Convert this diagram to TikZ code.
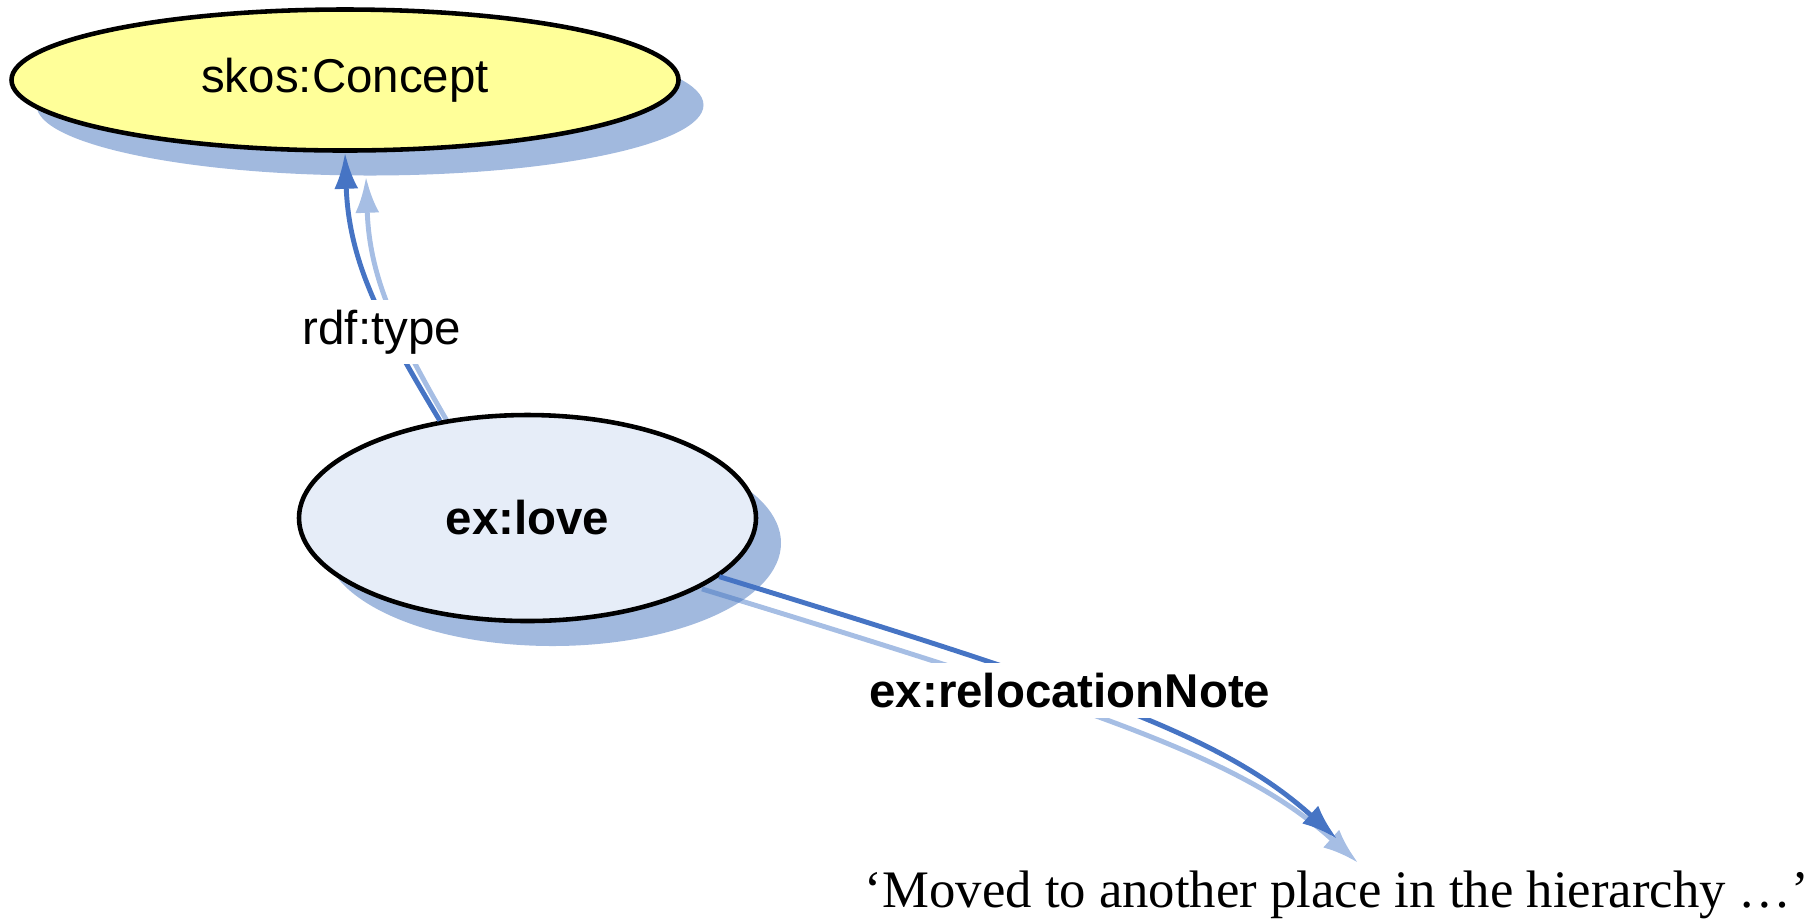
\documentclass[tikz,border=0pt]{standalone}
\usepackage{fontspec}
\setmainfont{Liberation Sans}
\newfontfamily\litserif{Liberation Serif}
\usetikzlibrary{positioning, shapes.geometric, shadows, arrows.meta}
\definecolor{conceptyellow}{RGB}{255,255,153}
\definecolor{resourceblue}{RGB}{230,237,248}
\definecolor{shadowblue}{RGB}{67,115,189}
\definecolor{arcblue}{RGB}{70,116,196}
\definecolor{arcpale}{RGB}{166,190,228}
\pgfdeclarelayer{back}
\pgfsetlayers{back,main}

\begin{document}
\begin{tikzpicture}[
               font = \fontsize{13.5}{16}\selectfont,
                  > = {Latex[length=3.6mm, width=2.4mm]},
      concept/.style = {ellipse, draw, line width=1.3pt, fill=conceptyellow,
                        minimum width=66.7mm, minimum height=14.1mm,
                        drop shadow={shadow xshift=2.5mm, shadow yshift=-2.5mm,
                                     fill=shadowblue, opacity=0.5}},
     resource/.style = {concept, fill=resourceblue, font=\fontsize{13.5}{16}\selectfont\bfseries,
                        minimum width=45.7mm, minimum height=20.6mm},
      literal/.style = {anchor=base, inner xsep=1pt, inner ysep=3.1mm,
                        font=\litserif\fontsize{15}{18}\selectfont},
          arc/.style = {->, line width=1.4pt, draw=arcblue},
    arcshadow/.style = {->, line width=1.4pt, draw=arcpale, shorten <=-4mm,
                        transform canvas={shift={(2.1mm,-2.4mm)}}},
         prop/.style = {fill=white, inner sep=1mm}
                        ]
\useasboundingbox (0,0) rectangle (18.19,-9.20);
\node (skos)[concept] at (3.45,-0.80) {skos:Concept};
\node (love)[resource] at (5.275,-5.18) {ex:love};
\node (note)[literal] at (13.37,-9.07) {‘Moved to another place in the hierarchy …’};
% shadows of the arcs
\begin{pgfonlayer}{back}
\draw[arcshadow] (love.132) to[out=121, in=-88] (skos.south);
\draw[arcshadow] (love.-17) .. controls +(-17:4cm) and +(138:1.5cm) .. (note.north);
\end{pgfonlayer}
\draw[arc] (love.132) to[out=121, in=-88] node[prop, pos=0.34, xshift=-0.8mm] {rdf:type} (skos.south);
\draw[arc] (love.-17) .. controls +(-17:4cm) and +(138:1.5cm) .. (note.north)
      node[prop, pos=0.4, font=\fontsize{13.5}{16}\selectfont\bfseries] {ex:relocationNote};
\end{tikzpicture}
\end{document}
